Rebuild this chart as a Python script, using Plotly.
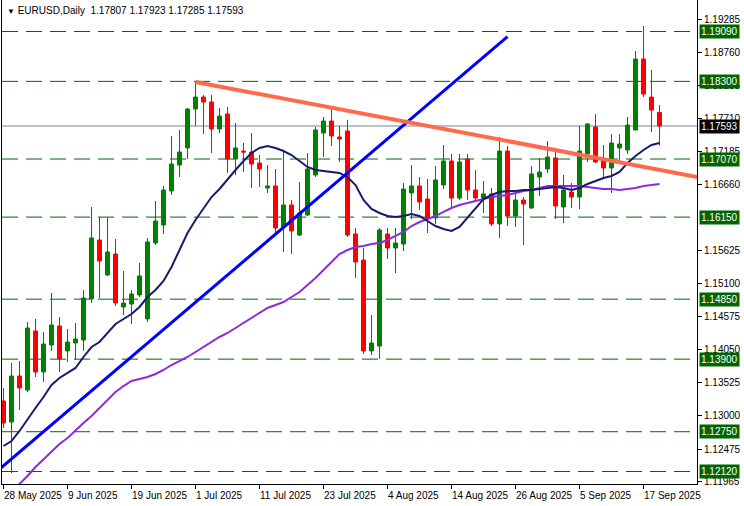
import plotly.graph_objects as go

# ---------------- data ----------------
bar_index = list(range(83))

opens = [1.13237, 1.12904, 1.13633, 1.13411, 1.14346, 1.13696, 1.14124, 1.14425, 1.14029, 1.14156,
         1.14203, 1.14853, 1.15787, 1.15233, 1.15565, 1.14726, 1.14773, 1.14916, 1.14536, 1.15740,
         1.16025, 1.16563, 1.16975, 1.17245, 1.17862, 1.18052, 1.17973, 1.17546, 1.17783, 1.17070,
         1.17197, 1.17181, 1.17007, 1.16611, 1.16643, 1.15993, 1.16342, 1.15866, 1.16183, 1.16817,
         1.17482, 1.17672, 1.17419, 1.17514, 1.15882, 1.15470, 1.14029, 1.14108, 1.15882, 1.15660,
         1.15724, 1.16532, 1.16643, 1.16437, 1.16136, 1.16658, 1.17039, 1.16452, 1.17070, 1.16579,
         1.16452, 1.16516, 1.16041, 1.17197, 1.16167, 1.16421, 1.16294, 1.16785, 1.16912, 1.17086,
         1.16310, 1.16548, 1.16468, 1.17150, 1.17577, 1.17039, 1.16928, 1.17245, 1.17213, 1.17530,
         1.18654, 1.18052, 1.17807]

highs = [1.13443, 1.13839, 1.13870, 1.14488, 1.14536, 1.14330, 1.14948, 1.14567, 1.14377, 1.14472,
         1.14995, 1.16310, 1.16152, 1.16152, 1.15803, 1.15296, 1.14995, 1.15423, 1.15819, 1.16405,
         1.16643, 1.17435, 1.17530, 1.17878, 1.18290, 1.18084, 1.18084, 1.17878, 1.17894, 1.17641,
         1.17324, 1.17482, 1.17134, 1.16975, 1.16912, 1.17181, 1.16421, 1.16706, 1.17165, 1.17577,
         1.17736, 1.17894, 1.17593, 1.17688, 1.15977, 1.15660, 1.14599, 1.15977, 1.15977, 1.15977,
         1.16690, 1.16975, 1.16785, 1.16753, 1.16959, 1.17292, 1.17150, 1.17150, 1.17150, 1.16896,
         1.16722, 1.16611, 1.17419, 1.17276, 1.16579, 1.16468, 1.16959, 1.17086, 1.17355, 1.17245,
         1.16817, 1.16690, 1.17593, 1.17641, 1.17783, 1.17292, 1.17466, 1.17466, 1.17736, 1.18781,
         1.19177, 1.18480, 1.17923]

lows = [1.12809, 1.12096, 1.13094, 1.13379, 1.13617, 1.13538, 1.14029, 1.13696, 1.13855, 1.13886,
        1.14029, 1.14789, 1.14868, 1.15217, 1.14742, 1.14599, 1.14457, 1.14884, 1.14488, 1.15708,
        1.15882, 1.16500, 1.16785, 1.17070, 1.17593, 1.17466, 1.17165, 1.17482, 1.16849, 1.16817,
        1.16864, 1.16611, 1.16627, 1.16532, 1.15898, 1.15597, 1.15565, 1.15851, 1.16167, 1.16785,
        1.17102, 1.17276, 1.17023, 1.15835, 1.15185, 1.13981, 1.13965, 1.13902, 1.15486, 1.15264,
        1.15613, 1.16120, 1.16262, 1.15898, 1.16041, 1.16595, 1.16294, 1.16421, 1.16421, 1.16405,
        1.16215, 1.16009, 1.15819, 1.16009, 1.15993, 1.15708, 1.16278, 1.16484, 1.16849, 1.16120,
        1.16056, 1.16294, 1.16278, 1.17023, 1.17007, 1.16785, 1.16532, 1.17039, 1.17150, 1.17530,
        1.18052, 1.17498, 1.17285]

closes = [1.12888, 1.13633, 1.13443, 1.14393, 1.13696, 1.14140, 1.14441, 1.13902, 1.14171, 1.14219,
          1.14868, 1.15819, 1.15455, 1.15597, 1.14789, 1.14789, 1.14932, 1.15217, 1.15756, 1.16088,
          1.16579, 1.16991, 1.17181, 1.17862, 1.18052, 1.17973, 1.17546, 1.17751, 1.17070, 1.17245,
          1.17181, 1.16991, 1.16912, 1.16643, 1.15977, 1.16342, 1.15930, 1.16215, 1.16912, 1.17530,
          1.17672, 1.17435, 1.17387, 1.15866, 1.15439, 1.14029, 1.14156, 1.15946, 1.15660, 1.15740,
          1.16595, 1.16643, 1.16389, 1.16120, 1.16738, 1.17039, 1.16452, 1.17023, 1.16579, 1.16452,
          1.16516, 1.16041, 1.17197, 1.16167, 1.16421, 1.16357, 1.16833, 1.16864, 1.17102, 1.16326,
          1.16579, 1.16468, 1.17197, 1.17625, 1.17023, 1.16928, 1.17324, 1.17308, 1.17609, 1.18654,
          1.18100, 1.17846, 1.17593]

ma_fast = [1.12524, 1.12603, 1.12762, 1.12952, 1.13126, 1.13300, 1.13490, 1.13601, 1.13680, 1.13760,
           1.13934, 1.14092, 1.14171, 1.14314, 1.14457, 1.14536, 1.14615, 1.14726, 1.14884, 1.14995,
           1.15138, 1.15360, 1.15629, 1.15898, 1.16104, 1.16294, 1.16468, 1.16595, 1.16753, 1.16896,
           1.17039, 1.17165, 1.17245, 1.17276, 1.17245, 1.17197, 1.17134, 1.17039, 1.16944, 1.16896,
           1.16880, 1.16864, 1.16849, 1.16785, 1.16658, 1.16421, 1.16278, 1.16215, 1.16167, 1.16152,
           1.16167, 1.16199, 1.16167, 1.16088, 1.16009, 1.15961, 1.15930, 1.15993, 1.16136, 1.16294,
           1.16437, 1.16500, 1.16548, 1.16563, 1.16563, 1.16579, 1.16579, 1.16595, 1.16611, 1.16627,
           1.16611, 1.16579, 1.16611, 1.16674, 1.16722, 1.16769, 1.16801, 1.16864, 1.17007, 1.17118,
           1.17213, 1.17292, 1.17324]

ma_slow = [1.11669, 1.11795, 1.11922, 1.12049, 1.12191, 1.12318, 1.12429, 1.12556, 1.12651, 1.12777,
           1.12888, 1.12999, 1.13126, 1.13253, 1.13379, 1.13474, 1.13554, 1.13585, 1.13617, 1.13665,
           1.13728, 1.13807, 1.13870, 1.13934, 1.14013, 1.14092, 1.14171, 1.14251, 1.14314, 1.14393,
           1.14472, 1.14552, 1.14631, 1.14710, 1.14758, 1.14805, 1.14884, 1.14963, 1.15074, 1.15185,
           1.15312, 1.15439, 1.15565, 1.15629, 1.15676, 1.15692, 1.15724, 1.15740, 1.15787, 1.15851,
           1.15914, 1.16009, 1.16072, 1.16120, 1.16167, 1.16231, 1.16294, 1.16342, 1.16373, 1.16405,
           1.16437, 1.16468, 1.16484, 1.16500, 1.16532, 1.16563, 1.16579, 1.16611, 1.16643, 1.16643,
           1.16643, 1.16643, 1.16643, 1.16627, 1.16611, 1.16595, 1.16595, 1.16579, 1.16595, 1.16611,
           1.16643, 1.16658, 1.16674]

tick_bars = [0, 8, 16, 24, 32, 40, 48, 56, 64, 72, 80]
tick_labels = ["28 May 2025", "9 Jun 2025", "19 Jun 2025", "1 Jul 2025", "11 Jul 2025",
               "23 Jul 2025", "4 Aug 2025", "14 Aug 2025", "26 Aug 2025", "5 Sep 2025", "17 Sep 2025"]

price_ticks = [1.19285, 1.18760, 1.18235, 1.17710, 1.17185, 1.16660, 1.15625, 1.15100,
               1.14575, 1.14050, 1.13525, 1.13000, 1.12475, 1.11965]

levels = [1.19090, 1.18300, 1.17070, 1.16150, 1.14850, 1.13900, 1.12750, 1.12120]
last_price = 1.17593

blue_trend_x = [-1, 63]
blue_trend_y = [1.12104, 1.19008]
red_trend_x = [24, 87]
red_trend_y = [1.18290, 1.16779]

symbol_text = "EURUSD,Daily"
ohlc_text = "1.17807 1.17923 1.17285 1.17593"

y_range = [1.11922, 1.19589]
x_range = [-0.1875, 86.6875]

FONT = "Liberation Sans, Arial, sans-serif"
LEVEL_GREEN = "#006400"

fig = go.Figure()

fig.add_trace(go.Candlestick(
    x=bar_index, open=opens, high=highs, low=lows, close=closes,
    increasing=dict(line=dict(color="#008000", width=1), fillcolor="#008000"),
    decreasing=dict(line=dict(color="#FF0000", width=1), fillcolor="#FF0000"),
    whiskerwidth=0, showlegend=False, hoverinfo="skip"))

fig.add_trace(go.Scatter(x=bar_index, y=ma_slow, mode="lines",
                         line=dict(color="#8A2BE2", width=2), showlegend=False, hoverinfo="skip"))
fig.add_trace(go.Scatter(x=bar_index, y=ma_fast, mode="lines",
                         line=dict(color="#191970", width=2), showlegend=False, hoverinfo="skip"))
fig.add_trace(go.Scatter(x=blue_trend_x, y=blue_trend_y, mode="lines",
                         line=dict(color="#0000FF", width=3), showlegend=False, hoverinfo="skip"))
fig.add_trace(go.Scatter(x=red_trend_x, y=red_trend_y, mode="lines",
                         line=dict(color="#FF6A4D", width=4), showlegend=False, hoverinfo="skip"))

shapes = []
for lv in levels:
    shapes.append(dict(type="line", xref="paper", x0=0, x1=1, yref="y", y0=lv, y1=lv,
                       line=dict(color=LEVEL_GREEN, width=1, dash="16px,8px"), layer="below"))
shapes.append(dict(type="line", xref="paper", x0=0, x1=1, yref="y", y0=last_price, y1=last_price,
                   line=dict(color="#778899", width=1), layer="below"))
fig.update_layout(shapes=shapes)

annotations = []
for lv in levels:
    annotations.append(dict(x=1, xref="paper", y=lv, yref="y", xanchor="left", yanchor="middle",
                            xshift=2, text=f"{lv:.5f}", showarrow=False, bgcolor=LEVEL_GREEN,
                            font=dict(color="white", size=10, family=FONT), borderpad=1))
annotations.append(dict(x=1, xref="paper", y=last_price, yref="y", xanchor="left", yanchor="middle",
                        xshift=2, text=f"{last_price:.5f}", showarrow=False, bgcolor="black",
                        font=dict(color="white", size=10, family=FONT), borderpad=1))
for b, lab in zip(tick_bars, tick_labels):
    annotations.append(dict(x=b, xref="x", y=0, yref="paper", xanchor="left", yanchor="top",
                            xshift=-2, yshift=-4, text=lab, showarrow=False,
                            font=dict(color="black", size=10, family=FONT)))
annotations.append(dict(x=0, xref="paper", y=1, yref="paper", xanchor="left", yanchor="top",
                        xshift=3, yshift=-3, showarrow=False,
                        text="<span style='font-size:8px'>▼</span> " + symbol_text + "  " + ohlc_text,
                        font=dict(color="black", size=10, family=FONT)))
fig.update_layout(annotations=annotations)

fig.update_layout(
    width=744, height=506,
    margin=dict(l=2, r=47, t=0, b=22),
    paper_bgcolor="white", plot_bgcolor="white",
    boxgap=0.5, boxgroupgap=0,
    xaxis=dict(range=x_range, rangeslider=dict(visible=False), showgrid=False, zeroline=False,
               tickmode="array", tickvals=tick_bars, ticktext=[""] * len(tick_bars),
               ticks="outside", ticklen=4, tickcolor="black", showline=True, linecolor="black",
               linewidth=1, mirror=False, fixedrange=True),
    yaxis=dict(range=y_range, side="right", showgrid=False, zeroline=False,
               tickmode="array", tickvals=price_ticks, ticktext=[f"{p:.5f}" for p in price_ticks],
               ticks="outside", ticklen=4, tickcolor="black", showline=True, linecolor="black",
               linewidth=1, mirror=True, tickfont=dict(color="black", size=10, family=FONT),
               fixedrange=True),
    font=dict(family=FONT, color="black"),
)

fig.write_html("out.html", config={"displayModeBar": False},
               post_script="document.body.style.margin='0px';document.body.style.padding='0px';")
